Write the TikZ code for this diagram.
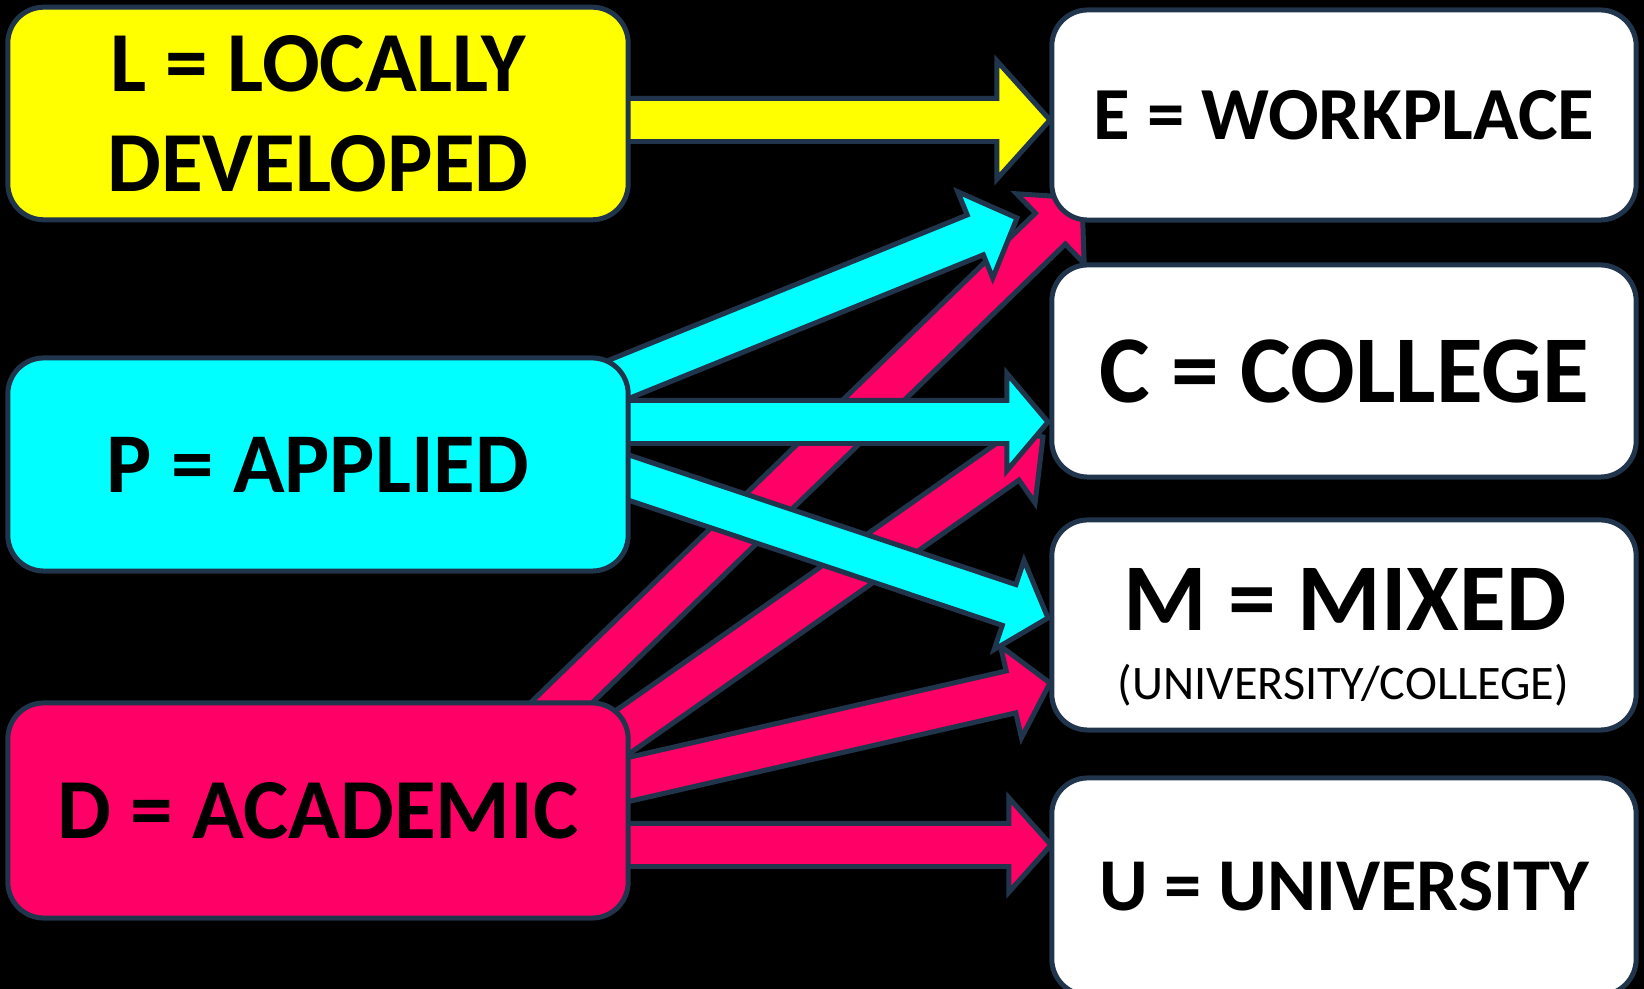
\documentclass[tikz,border=0pt]{standalone}
\usepackage{fontspec}
\setmainfont{Carlito}
\usetikzlibrary{calc}
\definecolor{outl}{RGB}{32,52,76}
\definecolor{pinkc}{HTML}{FF0066}
\definecolor{cyanc}{HTML}{00FFFF}
\definecolor{yellowc}{HTML}{FFFF00}
\pgfdeclarelayer{back}
\pgfdeclarelayer{arrows}
\pgfsetlayers{back,arrows,main}
% #1 fill, #2 start coord, #3 tip coord, #4 half shaft, #5 half head, #6 head length
\newcommand\myblockarrow[6]{%
  \coordinate (#2#3hb) at ($(#3)!#6!(#2)$);
  \filldraw[arrowline, fill=#1]
    ($(#2)!#4!90:(#3)$) -- ($(#2#3hb)!#4!90:(#3)$) -- ($(#2#3hb)!#5!90:(#3)$) -- (#3)
    -- ($(#2#3hb)!#5!-90:(#3)$) -- ($(#2#3hb)!#4!-90:(#3)$) -- ($(#2)!#4!-90:(#3)$) -- cycle;}
\begin{document}
\begin{tikzpicture}[x=0.01cm,y=-0.01cm,
  box/.style={draw=outl, line width=1.42pt, rounded corners=0.36cm, inner sep=0pt},
  arrowline/.style={draw=outl, line width=1.42pt, line join=miter}]
\begin{pgfonlayer}{back}
\fill[black] (0,0) rectangle (1644,989);
\end{pgfonlayer}
\useasboundingbox (0,0) rectangle (1644,989);

% boxes
\node[box, fill=yellowc, minimum width=6.2cm, minimum height=2.125cm, align=center,
  font=\bfseries\fontsize{24.3}{28.45}\selectfont] (L) at (318,113.5) {L = LOCALLY\\DEVELOPED};
\node[box, fill=cyanc, minimum width=6.2cm, minimum height=2.13cm,
  font=\bfseries\fontsize{24.2}{30}\selectfont] (P) at (318,464.5) {P = APPLIED};
\node[box, fill=pinkc, minimum width=6.2cm, minimum height=2.15cm,
  font=\bfseries\fontsize{24.3}{30}\selectfont] (D) at (318,810.5) {D = ACADEMIC};
\node[box, fill=white, minimum width=5.84cm, minimum height=2.1cm,
  font=\bfseries\fontsize{21.3}{27}\selectfont] (E) at (1344,115) {E = WORKPLACE};
\node[box, fill=white, minimum width=5.84cm, minimum height=2.12cm,
  font=\bfseries\fontsize{27.2}{32}\selectfont] (C) at (1344,371) {C = COLLEGE};
\node[box, fill=white, minimum width=5.84cm, minimum height=2.1cm] (M) at (1344,625) {};
\node[font=\bfseries\fontsize{27.2}{30}\selectfont, anchor=base, inner sep=0pt] (Mt) at (1345,631) {M = MIXED};
\node[font=\fontsize{13.7}{17}\selectfont, anchor=base, inner sep=0pt] (Ms) at (1343.5,700) {(UNIVERSITY/COLLEGE)};
\node[box, fill=white, minimum width=5.84cm, minimum height=2.17cm,
  font=\bfseries\fontsize{21.2}{27}\selectfont] (U) at (1344,886.5) {U = UNIVERSITY};

% connector end points
\coordinate (LEs) at (600,120);  \coordinate (LEt) at (1050,120);
\coordinate (PEs) at (600,387);  \coordinate (PEt) at (1017,218);
\coordinate (PCs) at (600,422);  \coordinate (PCt) at (1048,422);
\coordinate (PMs) at (600,468);  \coordinate (PMt) at (1048,618);
\coordinate (DEs) at (523,740);  \coordinate (DEt) at (1082,198);
\coordinate (DCs) at (600,748);  \coordinate (DCt) at (1043,437);
\coordinate (DMs) at (600,786);  \coordinate (DMt) at (1050,683);
\coordinate (DUs) at (600,845);  \coordinate (DUt) at (1051,845);

\begin{pgfonlayer}{arrows}
\myblockarrow{pinkc}{DEs}{DEt}{0.215cm}{0.485cm}{0.44cm}
\myblockarrow{pinkc}{DCs}{DCt}{0.215cm}{0.495cm}{0.444cm}
\myblockarrow{pinkc}{DMs}{DMt}{0.215cm}{0.47cm}{0.40cm}
\myblockarrow{pinkc}{DUs}{DUt}{0.215cm}{0.47cm}{0.42cm}
\myblockarrow{cyanc}{PEs}{PEt}{0.215cm}{0.465cm}{0.45cm}
\myblockarrow{cyanc}{PCs}{PCt}{0.215cm}{0.485cm}{0.41cm}
\myblockarrow{cyanc}{PMs}{PMt}{0.215cm}{0.47cm}{0.41cm}
\myblockarrow{yellowc}{LEs}{LEt}{0.215cm}{0.59cm}{0.53cm}
\end{pgfonlayer}
\end{tikzpicture}
\end{document}
